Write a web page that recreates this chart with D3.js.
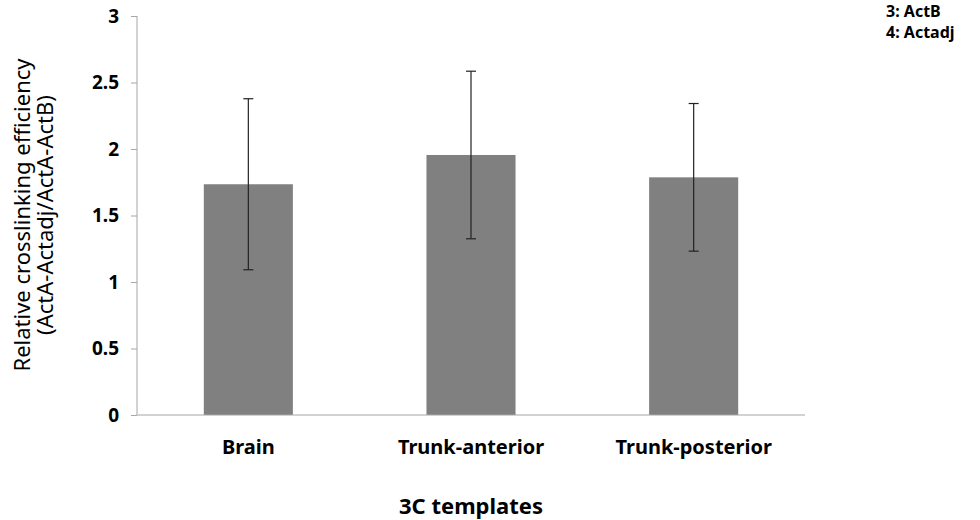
<!DOCTYPE html>
<html>
<head>
<meta charset="utf-8">
<script src="https://cdn.jsdelivr.net/npm/d3@7"></script>
<style>
  body { margin: 0; background: #fff; }
  text { font-family: "Noto Sans", "Open Sans", sans-serif; }
</style>
</head>
<body>
<script>
// chart data
const categories = ["Brain", "Trunk-anterior", "Trunk-posterior"];
const means = [1.735, 1.955, 1.787];
const errors = [0.643, 0.63, 0.555];
const yTicks = [0, 0.5, 1, 1.5, 2, 2.5, 3];
const notes = ["3: ActB", "4: Actadj"];

const width = 980, height = 520;
const margin = {top: 16, right: 175, bottom: 105, left: 137};

const svg = d3.select("body").append("svg")
  .attr("width", width)
  .attr("height", height);

const x = d3.scaleBand()
  .domain(categories)
  .range([margin.left, width - margin.right])
  .paddingInner(0.6)
  .paddingOuter(0.3);

const y = d3.scaleLinear()
  .domain([0, 3])
  .range([height - margin.bottom, margin.top]);

// y axis
const yAxis = svg.append("g")
  .attr("transform", "translate(" + margin.left + ",0)")
  .call(d3.axisLeft(y).tickValues(yTicks).tickSize(6).tickPadding(12)
    .tickFormat(d => d));
yAxis.selectAll("path, line").attr("stroke", "#a6a6a6");
yAxis.select(".domain").attr("d", "M0," + y(3) + "V" + y(0));
yAxis.selectAll("text")
  .attr("font-size", 19).attr("font-weight", "bold").attr("fill", "#000");

// bars
svg.selectAll(".bar")
  .data(categories)
  .enter().append("rect")
  .attr("class", "bar")
  .attr("x", d => x(d))
  .attr("width", x.bandwidth())
  .attr("y", (d, i) => y(means[i]))
  .attr("height", (d, i) => y(0) - y(means[i]))
  .attr("fill", "#808080");

// x axis line
svg.append("line")
  .attr("x1", margin.left).attr("x2", width - margin.right)
  .attr("y1", y(0)).attr("y2", y(0))
  .attr("stroke", "#a6a6a6");

// error bars
const eb = svg.selectAll(".err")
  .data(categories)
  .enter().append("g")
  .attr("class", "err")
  .attr("stroke", "#222")
  .attr("stroke-width", 1.2);
eb.append("line")
  .attr("x1", d => x(d) + x.bandwidth() / 2)
  .attr("x2", d => x(d) + x.bandwidth() / 2)
  .attr("y1", (d, i) => y(means[i] + errors[i]))
  .attr("y2", (d, i) => y(means[i] - errors[i]));
eb.append("line")
  .attr("x1", d => x(d) + x.bandwidth() / 2 - 5)
  .attr("x2", d => x(d) + x.bandwidth() / 2 + 5)
  .attr("y1", (d, i) => y(means[i] + errors[i]))
  .attr("y2", (d, i) => y(means[i] + errors[i]));
eb.append("line")
  .attr("x1", d => x(d) + x.bandwidth() / 2 - 5)
  .attr("x2", d => x(d) + x.bandwidth() / 2 + 5)
  .attr("y1", (d, i) => y(means[i] - errors[i]))
  .attr("y2", (d, i) => y(means[i] - errors[i]));

// category labels
svg.selectAll(".cat")
  .data(categories)
  .enter().append("text")
  .attr("class", "cat")
  .attr("x", d => x(d) + x.bandwidth() / 2)
  .attr("y", 454)
  .attr("text-anchor", "middle")
  .attr("font-size", 20)
  .attr("font-weight", "bold")
  .text(d => d);

// axis titles
svg.append("text")
  .attr("x", x("Trunk-anterior") + x.bandwidth() / 2)
  .attr("y", 514)
  .attr("text-anchor", "middle")
  .attr("font-size", 22)
  .attr("font-weight", "bold")
  .text("3C templates");

const yt = svg.append("text")
  .attr("transform", "translate(30,215) rotate(-90)")
  .attr("text-anchor", "middle")
  .attr("font-size", 22);
yt.append("tspan").attr("x", 0).attr("dy", 0).text("Relative crosslinking efficiency");
yt.append("tspan").attr("x", 0).attr("dy", 23).text("(ActA-Actadj/ActA-ActB)");

// notes top right
svg.selectAll(".note")
  .data(notes)
  .enter().append("text")
  .attr("class", "note")
  .attr("x", 886)
  .attr("y", (d, i) => 17 + i * 21)
  .attr("font-size", 16)
  .attr("font-weight", "bold")
  .text(d => d);
</script>
</body>
</html>
